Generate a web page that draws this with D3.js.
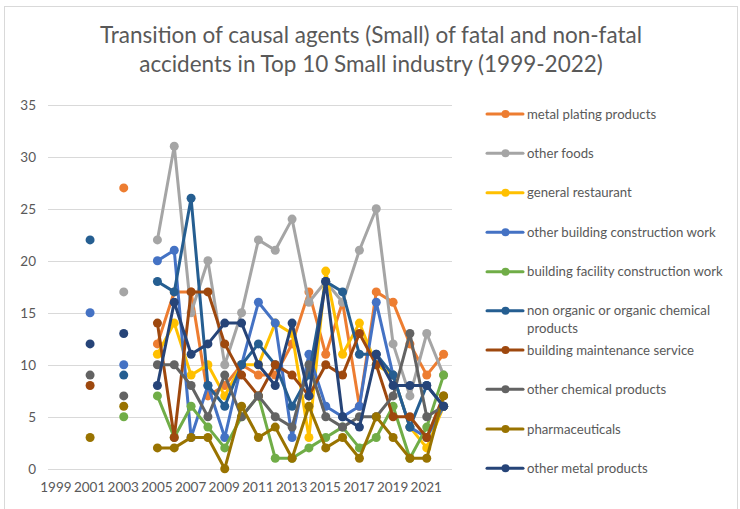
<!DOCTYPE html>
<html>
<head>
<meta charset="utf-8">
<script src="https://cdn.jsdelivr.net/npm/d3@7"></script>
<style>
  html, body { margin: 0; padding: 0; background: #fff; }
  svg { display: block; font-family: Lato, "Open Sans", sans-serif; }
</style>
</head>
<body>
<svg id="chart" width="740" height="509"></svg>
<script>
const years = ["1999","2000","2001","2002","2003","2004","2005","2006","2007","2008","2009","2010","2011","2012","2013","2014","2015","2016","2017","2018","2019","2020","2021","2022"];
const xTickLabels = ["1999","2001","2003","2005","2007","2009","2011","2013","2015","2017","2019","2021"];
const yTicks = [0,5,10,15,20,25,30,35];

const seriesNames = [
  "metal plating products",
  "other foods",
  "general restaurant",
  "other building construction work",
  "building facility construction work",
  "non organic or organic chemical products",
  "building maintenance service",
  "other chemical products",
  "pharmaceuticals",
  "other metal products"
];
const seriesColors = ["#ED7D31","#A5A5A5","#FFC000","#4472C4","#70AD47","#255E91","#9E480E","#636363","#997300","#264478"];

const _ = null;
const metalPlating      = [_,_,_,_,27,_, 12,17,17,7,8,10,9,9,12,17,11,16,6,17,16,12,9,11];
const otherFoods        = [_,_,_,_,17,_, 22,31,15,20,10,15,22,21,24,16,18,16,21,25,12,7,13,9];
const generalRestaurant = [_,_,_,_,_,_, 11,14,9,10,7,10,10,14,13,3,19,11,14,10,9,4,2,6];
const otherBuilding     = [_,_,15,_,10,_, 20,21,3,8,3,10,16,14,3,11,6,5,6,16,9,4,3,6];
const buildingFacility  = [_,_,_,_,5,_, 7,3,6,4,2,5,7,1,1,2,3,4,2,3,6,1,4,9];
const nonOrganic        = [_,_,22,_,9,_, 18,17,26,8,6,10,12,10,6,9,18,17,11,11,9,4,8,6];
const buildingMaint     = [_,_,8,_,_,_, 14,3,17,17,12,9,7,10,9,7,10,9,13,10,5,5,3,7];
const otherChemical     = [_,_,9,_,7,_, 10,10,8,5,9,5,7,5,4,10,5,4,5,5,7,13,5,6];
const pharmaceuticals   = [_,_,3,_,6,_, 2,2,3,3,0,6,3,4,1,6,2,3,1,5,3,1,1,7];
const otherMetal        = [_,_,12,_,13,_, 8,16,11,12,14,14,10,8,14,7,18,5,4,11,8,8,8,6];

const seriesValues = [metalPlating, otherFoods, generalRestaurant, otherBuilding, buildingFacility,
  nonOrganic, buildingMaint, otherChemical, pharmaceuticals, otherMetal];

const svg = d3.select("#chart");
const textColor = "#595959";
const gridColor = "#D9D9D9";

// outer border
svg.append("rect").attr("x", 4.5).attr("y", 6.5).attr("width", 733).attr("height", 503)
  .attr("fill", "#fff").attr("stroke", gridColor).attr("stroke-width", 1);

// title
const title = svg.append("text").attr("text-anchor", "middle").attr("fill", textColor)
  .style("font-size", "22.5px");
title.append("tspan").attr("x", 371).attr("y", 43).text("Transition of causal agents (Small) of fatal and non-fatal");
title.append("tspan").attr("x", 371).attr("y", 72).text("accidents in Top 10 Small industry (1999-2022)");

const x = d3.scalePoint().domain(years).range([48, 452]).padding(0.5);
const y = d3.scaleLinear().domain([0, 35]).range([468.7, 104.7]);

// gridlines
svg.append("g").selectAll("line").data(yTicks).join("line")
  .attr("x1", 48).attr("x2", 452)
  .attr("y1", d => Math.round(y(d)) + 0.5).attr("y2", d => Math.round(y(d)) + 0.5)
  .attr("stroke", gridColor).attr("stroke-width", 1);

// y axis labels
const yAxis = d3.axisLeft(y).tickValues(yTicks).tickSize(0).tickPadding(0);
const yg = svg.append("g").attr("transform", "translate(36,0)").call(yAxis);
yg.select(".domain").remove();
yg.selectAll("text").attr("fill", textColor).style("font-size", "13.5px").style("font-family", "Lato, sans-serif");

// x axis labels
const xAxis = d3.axisBottom(x).tickValues(xTickLabels).tickSize(0).tickPadding(0);
const xg = svg.append("g").attr("transform", "translate(-1,482)").call(xAxis);
xg.select(".domain").remove();
xg.selectAll("text").attr("fill", textColor).style("font-size", "13.5px").style("font-family", "Lato, sans-serif");

// series
const line = d3.line()
  .defined(d => d.v !== null)
  .x(d => x(d.year))
  .y(d => y(d.v));

seriesValues.forEach((vals, i) => {
  const pts = vals.map((v, j) => ({ year: years[j], v: v }));
  const g = svg.append("g");
  g.append("path").datum(pts).attr("d", line)
    .attr("fill", "none").attr("stroke", seriesColors[i]).attr("stroke-width", 3)
    .attr("stroke-linejoin", "round").attr("stroke-linecap", "round");
  g.selectAll("circle").data(pts.filter(d => d.v !== null)).join("circle")
    .attr("cx", d => x(d.year)).attr("cy", d => y(d.v)).attr("r", 4.5)
    .attr("fill", seriesColors[i]);
});

// legend
const legendRows = [114, 153.3, 192.7, 232.3, 271.7, 310.7, 350, 389.3, 429, 468.3];
const lg = svg.append("g");
seriesNames.forEach((name, i) => {
  const ly = legendRows[i];
  lg.append("line").attr("x1", 487).attr("x2", 523).attr("y1", ly).attr("y2", ly)
    .attr("stroke", seriesColors[i]).attr("stroke-width", 3).attr("stroke-linecap", "round");
  lg.append("circle").attr("cx", 505.5).attr("cy", ly).attr("r", 4).attr("fill", seriesColors[i]);
  const t = lg.append("text").attr("fill", textColor).style("font-size", "13.2px");
  if (name === "non organic or organic chemical products") {
    t.append("tspan").attr("x", 527).attr("y", ly).attr("dy", "0.35em").text("non organic or organic chemical");
    t.append("tspan").attr("x", 527).attr("y", ly + 17.6).attr("dy", "0.35em").text("products");
  } else {
    t.append("tspan").attr("x", 527).attr("y", ly).attr("dy", "0.35em").text(name);
  }
});
</script>
</body>
</html>
